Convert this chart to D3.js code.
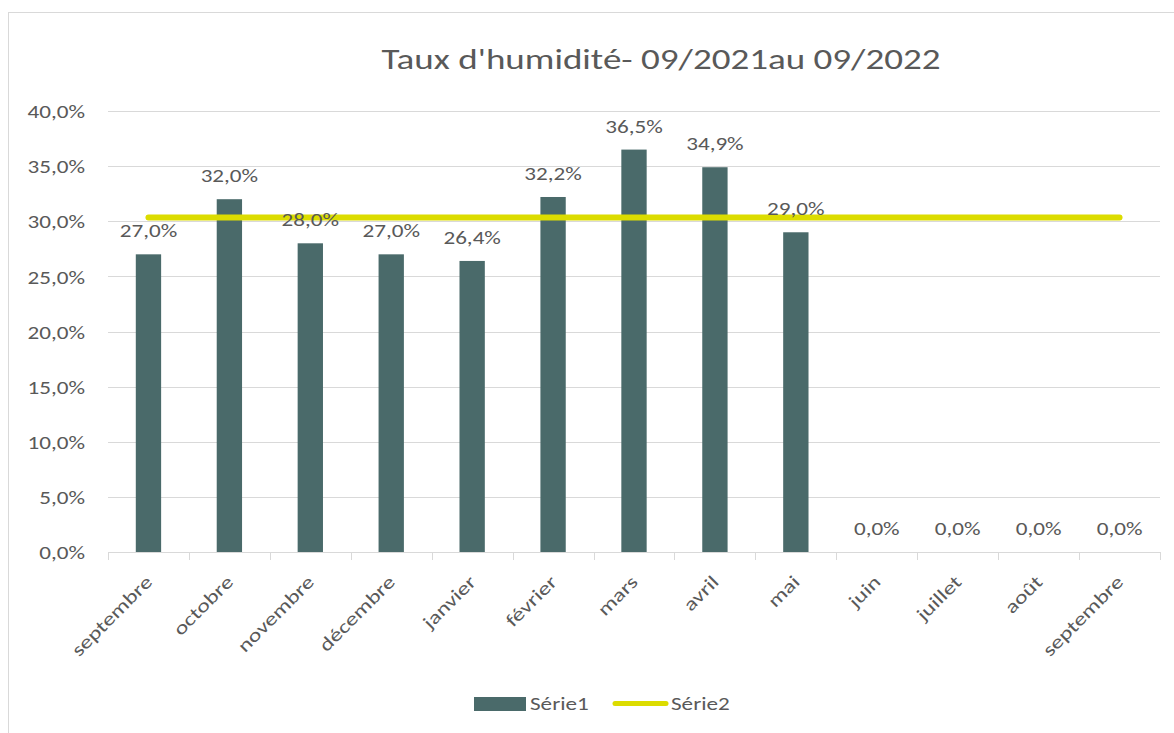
<!DOCTYPE html>
<html>
<head>
<meta charset="utf-8">
<script src="https://cdn.jsdelivr.net/npm/d3@7"></script>
<style>
  html, body { margin: 0; padding: 0; background: #fff; }
  text { font-family: Carlito, Calibri, Lato, sans-serif; fill: #595959; }
</style>
</head>
<body>
<svg id="chart" width="1174" height="733"></svg>
<script>
const title = "Taux d'humidité- 09/2021au 09/2022";
const categories = ["septembre", "octobre", "novembre", "décembre", "janvier", "février", "mars", "avril", "mai", "juin", "juillet", "août", "septembre"];
const serie1 = [0.270, 0.320, 0.280, 0.270, 0.264, 0.322, 0.365, 0.349, 0.290, 0, 0, 0, 0];
const serie2 = [0.3033, 0.3033, 0.3033, 0.3033, 0.3033, 0.3033, 0.3033, 0.3033, 0.3033, 0.3033, 0.3033, 0.3033, 0.3033];
const yTicks = [0, 0.05, 0.10, 0.15, 0.20, 0.25, 0.30, 0.35, 0.40];
const seriesNames = ["Série1", "Série2"];

const barColor = "#4a6a6a";
const lineColor = "#dcdc00";
const gridColor = "#d9d9d9";
const SX = 1.25;          // horizontal stretch of the glyphs (wide Calibri-like look)
const FS = 18.5;          // label font size
const FONT = "Carlito, Calibri, Lato, sans-serif";

const svg = d3.select("#chart");
const W = 1174, H = 733;
const plot = { left: 108, right: 1160, top: 111, bottom: 552 };

const fmt = v => (v * 100).toFixed(1).replace(".", ",") + "%";
const place = (px, py, extra = "", sx = SX) => `translate(${px},${py}) ${extra} scale(${sx},1)`;

// outer border
svg.append("rect").attr("x", 8.5).attr("y", 12.5).attr("width", W + 10).attr("height", H + 10)
  .attr("fill", "#fff").attr("stroke", gridColor).attr("stroke-width", 1);

const idx = categories.map((d, i) => i);
const x = d3.scaleBand().domain(idx).range([plot.left, plot.right]).paddingInner(0).paddingOuter(0);
const y = d3.scaleLinear().domain([0, 0.40]).range([plot.bottom, plot.top]);

// gridlines
svg.append("g").selectAll("line").data(yTicks.filter(t => t > 0)).join("line")
  .attr("x1", plot.left).attr("x2", plot.right)
  .attr("y1", d => Math.round(y(d)) + 0.5).attr("y2", d => Math.round(y(d)) + 0.5)
  .attr("stroke", gridColor).attr("stroke-width", 1);

// y axis labels
const yAxis = d3.axisLeft(y).tickValues(yTicks).tickFormat(fmt).tickSize(0).tickPadding(0);
const gy = svg.append("g").attr("transform", `translate(${plot.left - 23},0)`).call(yAxis);
gy.select(".domain").remove();
gy.selectAll("text").attr("font-size", FS).attr("fill", "#595959")
  .style("font-family", FONT).attr("x", 0).attr("dy", "0.36em")
  .attr("transform", `scale(${SX},1)`);

// bars
const bw = x.bandwidth() * 0.313;
svg.append("g").selectAll("rect").data(serie1).join("rect")
  .attr("x", (d, i) => x(i) + x.bandwidth() / 2 - bw / 2)
  .attr("y", d => y(d))
  .attr("width", bw)
  .attr("height", d => y(0) - y(d))
  .attr("fill", barColor);

// x axis
const xAxis = d3.axisBottom(x).tickFormat(i => categories[i]).tickSize(0);
const gx = svg.append("g").attr("transform", `translate(0,${plot.bottom})`).call(xAxis);
gx.select(".domain").attr("stroke", gridColor).attr("d", `M${plot.left},0.5H${plot.right}`);
gx.selectAll(".tick line").remove();
gx.selectAll(".tick text")
  .attr("font-size", FS).attr("fill", "#595959")
  .style("font-family", FONT)
  .attr("text-anchor", "end").attr("y", 0).attr("dy", 0)
  .attr("transform", place(5, 31, "rotate(-45)", 1.3));
// boundary tick marks
svg.append("g").selectAll("line").data(d3.range(categories.length + 1)).join("line")
  .attr("x1", i => Math.round(plot.left + i * x.bandwidth()) + 0.5)
  .attr("x2", i => Math.round(plot.left + i * x.bandwidth()) + 0.5)
  .attr("y1", plot.bottom).attr("y2", plot.bottom + 8)
  .attr("stroke", gridColor).attr("stroke-width", 1);

// series 2 line
const line = d3.line().x((d, i) => x(i) + x.bandwidth() / 2).y(d => y(d));
svg.append("path").datum(serie2).attr("d", line)
  .attr("fill", "none").attr("stroke", lineColor).attr("stroke-width", 6)
  .attr("stroke-linecap", "round").attr("stroke-linejoin", "round");

// data labels
svg.append("g").selectAll("text").data(serie1).join("text")
  .attr("transform", (d, i) => place(x(i) + x.bandwidth() / 2, y(d) - 17))
  .attr("text-anchor", "middle").attr("font-size", FS)
  .text(d => fmt(d));

// title
svg.append("text").attr("transform", place(661, 69, "", 1.3)).attr("text-anchor", "middle")
  .attr("font-size", 28.5).text(title);

// legend
const lg = svg.append("g");
lg.append("rect").attr("x", 474).attr("y", 697).attr("width", 52).attr("height", 14).attr("fill", barColor);
lg.append("text").attr("transform", place(530, 710)).attr("font-size", FS).text(seriesNames[0]);
lg.append("line").attr("x1", 615).attr("x2", 666).attr("y1", 703.5).attr("y2", 703.5)
  .attr("stroke", lineColor).attr("stroke-width", 5).attr("stroke-linecap", "round");
lg.append("text").attr("transform", place(671, 710)).attr("font-size", FS).text(seriesNames[1]);
</script>
</body>
</html>
